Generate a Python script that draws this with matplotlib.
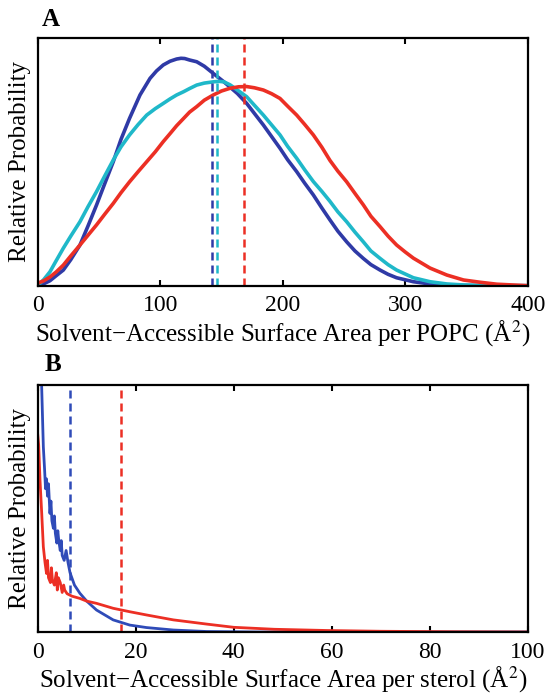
import numpy as np
import matplotlib
matplotlib.use("Agg")
import matplotlib.pyplot as plt

plt.rcParams["font.family"] = ["Liberation Serif", "DejaVu Serif"]
plt.rcParams["mathtext.fontset"] = "stix"

# ---- Panel A: SASA per POPC (Å^2) ----
popc_blue_x = [0, 5, 10, 15, 20.9, 27, 34.5, 41, 48, 55, 61.7, 68, 75, 83.5, 91.7, 97,
               102.5, 108, 113.4, 117, 120, 124, 129.8, 136, 143.3, 152, 163, 170.6,
               177, 184.2, 191, 197.8, 204, 211.4, 218, 225, 232, 238.6, 245, 252.2,
               259, 265.8, 272, 279.5, 286, 293, 306.7, 320.3, 334, 350, 370, 400]
popc_blue_y = [0, 0.008, 0.02, 0.04, 0.063, 0.105, 0.164, 0.24, 0.325, 0.415, 0.5, 0.59,
               0.675, 0.769, 0.836, 0.866, 0.89, 0.905, 0.914, 0.917, 0.916, 0.91, 0.903,
               0.885, 0.856, 0.822, 0.775, 0.735, 0.694, 0.648, 0.601, 0.554, 0.508,
               0.46, 0.413, 0.366, 0.313, 0.265, 0.22, 0.177, 0.14, 0.11, 0.085, 0.063,
               0.046, 0.032, 0.016, 0.007, 0.003, 0.001, 0.0, 0.0]

popc_cyan_x = [0, 5, 10, 15, 20.9, 27, 34.5, 41, 48, 55, 61.7, 68, 75, 82, 89, 96,
               102.5, 108, 113.4, 119, 124, 129.8, 136, 143.3, 148, 152, 157, 163, 170.6,
               177, 184.2, 191, 197.8, 204, 211.4, 218, 225, 232, 238.6, 245, 252.2, 259,
               265.8, 272, 279.5, 286, 293, 306.7, 320.3, 334, 347.6, 370, 400]
popc_cyan_y = [0, 0.025, 0.056, 0.1, 0.151, 0.2, 0.258, 0.318, 0.379, 0.445, 0.507, 0.56,
               0.608, 0.65, 0.688, 0.714, 0.735, 0.753, 0.769, 0.782, 0.795, 0.809, 0.817,
               0.822, 0.824, 0.822, 0.81, 0.789, 0.762, 0.727, 0.688, 0.648, 0.608, 0.562,
               0.514, 0.467, 0.42, 0.38, 0.34, 0.298, 0.258, 0.216, 0.177, 0.14, 0.11,
               0.085, 0.063, 0.032, 0.016, 0.007, 0.003, 0.0, 0.0]

popc_red_x = [0, 5, 10, 15, 20.9, 27, 34.5, 41, 48, 55, 61.7, 68, 75, 82, 89, 96, 102.5,
              108, 113.4, 119, 124, 129.8, 136, 143.3, 150, 157, 164, 170.6, 177, 184.2,
              191, 197.8, 204, 211.4, 218, 225, 232, 238.6, 245, 252.2, 259, 265.8, 272,
              279.5, 286, 293, 300, 306.7, 320.3, 334, 347.6, 361, 374.8, 400]
popc_red_y = [0.01, 0.02, 0.035, 0.055, 0.083, 0.12, 0.164, 0.203, 0.245, 0.29, 0.332,
              0.375, 0.419, 0.46, 0.5, 0.54, 0.581, 0.613, 0.645, 0.674, 0.7, 0.722, 0.748,
              0.769, 0.785, 0.796, 0.802, 0.803, 0.798, 0.789, 0.774, 0.755, 0.724, 0.688,
              0.65, 0.608, 0.558, 0.505, 0.462, 0.419, 0.372, 0.326, 0.28, 0.238, 0.2,
              0.164, 0.136, 0.111, 0.071, 0.043, 0.023, 0.014, 0.006, 0.0]

popc_means = [142.0, 146.7, 168.7]

# ---- Panel B: SASA per sterol (Å^2) ----
sterol_blue_x = [0.3, 0.8, 1.15, 1.4, 1.6, 1.8, 2.0, 2.2, 2.5, 2.7, 2.9, 3.2, 3.4, 3.6,
                 3.9, 4.1, 4.3, 4.6, 4.8, 5.0, 5.4, 5.8, 6.2, 6.6, 7.5, 8.6, 10, 12,
                 15.4, 18.8, 22.2, 27.7, 34.5, 45, 100]
sterol_blue_y = [1.2, 1.0, 0.75, 0.66, 0.58, 0.62, 0.55, 0.60, 0.48, 0.53, 0.45, 0.42,
                 0.47, 0.40, 0.36, 0.41, 0.37, 0.33, 0.37, 0.31, 0.29, 0.33, 0.28, 0.24,
                 0.19, 0.157, 0.125, 0.089, 0.049, 0.028, 0.018, 0.008, 0.002, 0.0, 0.0]

sterol_red_x = [0.0, 0.2, 0.47, 0.82, 1.15, 1.5, 1.8, 2.0, 2.2, 2.6, 2.8, 3.0, 3.4, 3.8,
                4.0, 4.2, 4.6, 5.0, 5.3, 5.5, 6.0, 7.0, 8.6, 10, 12, 15.4, 18.8, 22.2,
                27.7, 34.5, 40, 48.3, 59.2, 70, 85, 100]
sterol_red_y = [0.80, 0.757, 0.615, 0.48, 0.345, 0.28, 0.237, 0.29, 0.22, 0.20, 0.26,
                0.21, 0.19, 0.24, 0.17, 0.22, 0.20, 0.16, 0.19, 0.17, 0.155, 0.145, 0.136,
                0.125, 0.116, 0.096, 0.082, 0.069, 0.049, 0.032, 0.019, 0.011, 0.006,
                0.003, 0.001, 0.0]

sterol_means = [6.6, 17.1]

C_BLUE = "#2f3aa6"
C_CYAN = "#1fb8c9"
C_RED = "#ec2f24"
C_BLUE_B = "#2f4bb8"

W, H = 549, 696
fig = plt.figure(figsize=(W / 100, H / 100), dpi=100)

def add_axes(top_px, bottom_px):
    left_px, right_px = 37.7, 527.7
    return fig.add_axes([left_px / W, 1 - bottom_px / H,
                         (right_px - left_px) / W, (bottom_px - top_px) / H])

def style(ax, xmax, xticks, xlabel):
    ax.set_xlim(0, xmax)
    ax.set_ylim(0, 1)
    ax.set_xticks(xticks)
    ax.set_xticklabels([str(t) for t in xticks], fontsize=17)
    ax.set_yticks([])
    ax.tick_params(axis="x", direction="in", top=True, length=4, width=1.5, pad=7)
    for s in ax.spines.values():
        s.set_linewidth(1.6)
    ax.set_xlabel(xlabel, fontsize=18, labelpad=1)
    ax.set_ylabel("Relative Probability", fontsize=18, labelpad=5)

dash = (0, (3.2, 2.0))

axA = add_axes(37.7, 285.7)
for xs, ys, c in [(popc_blue_x, popc_blue_y, C_BLUE),
                  (popc_cyan_x, popc_cyan_y, C_CYAN),
                  (popc_red_x, popc_red_y, C_RED)]:
    axA.plot(xs, ys, color=c, lw=2.6, solid_joinstyle="round")
for m, c in zip(popc_means, [C_BLUE, C_CYAN, C_RED]):
    axA.axvline(m, color=c, lw=1.8, linestyle=dash)
style(axA, 400, [0, 100, 200, 300, 400],
      "Solvent\u2212Accessible Surface Area per POPC (Å$^{2}$)")

axB = add_axes(385.0, 632.0)
axB.plot(sterol_blue_x, sterol_blue_y, color=C_BLUE_B, lw=2.0)
axB.plot(sterol_red_x, sterol_red_y, color=C_RED, lw=2.0)
for m, c in zip(sterol_means, [C_BLUE_B, C_RED]):
    axB.axvline(m, color=c, lw=1.8, linestyle=dash)
style(axB, 100, [0, 20, 40, 60, 80, 100],
      "Solvent\u2212Accessible Surface Area per sterol (Å$^{2}$)")

fig.text(42 / W, 1 - 8 / H, "A", fontsize=18, fontweight="bold", va="top", ha="left")
fig.text(45 / W, 1 - 353 / H, "B", fontsize=18, fontweight="bold", va="top", ha="left")

fig.savefig("out.png", dpi=100)
